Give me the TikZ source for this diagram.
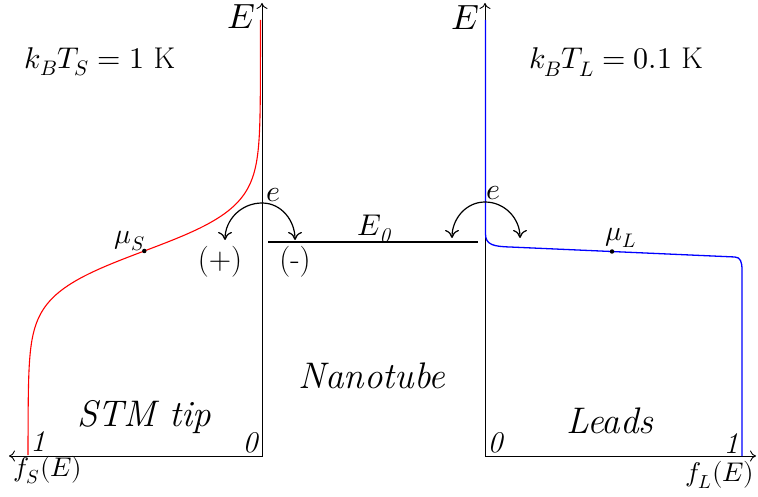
\documentclass[tikz,border=0pt]{standalone}
\usepackage{amsmath}
\usepackage{fontspec}
\usepackage{unicode-math}
\usetikzlibrary{arrows.meta}
\begin{document}
\begin{tikzpicture}[x=1pt,y=1pt,
  fs/.style={font=\fontsize{#1}{#1}\selectfont},
  lbl/.style={inner sep=0pt},
  axes/.style={line width=0.9pt,{To[length=6pt,width=11pt]}-{To[length=6pt,width=11pt]}},
  hop/.style={line width=1.2pt,-{To[length=8pt,width=14pt]}},
  level/.style={line width=2.8pt},
  fermiS/.style={red,line width=1.1pt},
  fermiL/.style={blue,line width=1.3pt},
  dot/.style={circle,fill=black,inner sep=0pt,minimum size=4.5pt}]
\useasboundingbox (0,0) rectangle (758,496);

% coordinates of axes
\coordinate (leftS) at (9,40);
\coordinate (oS) at (262,40);
\coordinate (topS) at (262,493);
\coordinate (rightL) at (756,40);
\coordinate (oL) at (485,40);
\coordinate (topL) at (485,493);

% STM tip Fermi function (red)
\draw[fermiS] plot[variable=\t, domain=41:421, samples=160]
  ({260.5-232.5/(exp((\t-245)/22)+1)}, \t) -- (260.5,476);

% axes
\draw[axes] (leftS) -- (oS) -- (topS);
\draw[axes] (rightL) -- (oL) -- (topL);

% Leads Fermi function (blue)
\draw[fermiL] (485.5,476) -- (485.5,262)
  .. controls (485.5,251) and (494,249.5) .. (510,249) -- (735,239)
  .. controls (740.5,238.7) and (742,234) .. (742,226) -- (742,40);

% level E0
\coordinate (lvA) at (268,254);
\coordinate (lvB) at (478,254);
\draw[level] (lvA) -- (lvB);

% hopping arrows
\coordinate (hopS) at (262,293);
\coordinate (tipPlus) at (225,256);
\coordinate (tipMinus) at (295,256);
\draw[hop] (hopS) to[out=180,in=90] (tipPlus);
\draw[hop] (hopS) to[out=0,in=90] (tipMinus);
\coordinate (hopL) at (485,294);
\coordinate (tipA) at (452,258);
\coordinate (tipB) at (520,258);
\draw[hop] (hopL) to[out=180,in=90] (tipA);
\draw[hop] (hopL) to[out=0,in=90] (tipB);

% chemical potentials
\node[dot] (dS) at (144.3,245) {};
\node[dot] (dL) at (612,244.5) {};
\node[lbl,fs=28] (muS) at (130,255) {$\mu_{S}$};
\node[lbl,fs=28] (muL) at (621,258) {$\mu_{L}$};

% labels
\node[lbl,fs=35] (ES) at (241,479) {$E$};
\node[lbl,fs=35] (EL) at (465,478) {$E$};
\node[lbl,fs=30] (kS) at (100,434) {$k_{B}T_{S} = 1$~K};
\node[lbl,fs=30] (kL) at (616,434) {$k_{B}T_{L} = 0.1$~K};
\node[lbl,fs=30] (eS) at (273,301) {$e$};
\node[lbl,fs=30] (eL) at (493,303) {$e$};
\node[lbl,fs=30] (E0) at (374,267) {$E_{\textit{0}}$};
\node[lbl,fs=31] (plusL) at (220,234) {(+)};
\node[lbl,fs=31] (minusL) at (295,234) {(-)};
\node[lbl,fs=37] (stm) at (144,79) {\itshape STM tip};
\node[lbl,fs=37] (nano) at (372,120) {\itshape Nanotube};
\node[lbl,fs=37] (leads) at (610,75) {\itshape Leads};
\node[lbl,fs=30] (oneS) at (38,54) {\itshape 1};
\node[lbl,fs=30] (zeroS) at (250,53) {\itshape 0};
\node[lbl,fs=30] (zeroL) at (495,53) {\itshape 0};
\node[lbl,fs=30] (oneL) at (731,52) {\itshape 1};
\node[lbl,fs=27] (fS) at (48,26) {$f_{S}(E)$};
\node[lbl,fs=27] (fL) at (720,21) {$f_{L}(E)$};
\end{tikzpicture}
\end{document}
